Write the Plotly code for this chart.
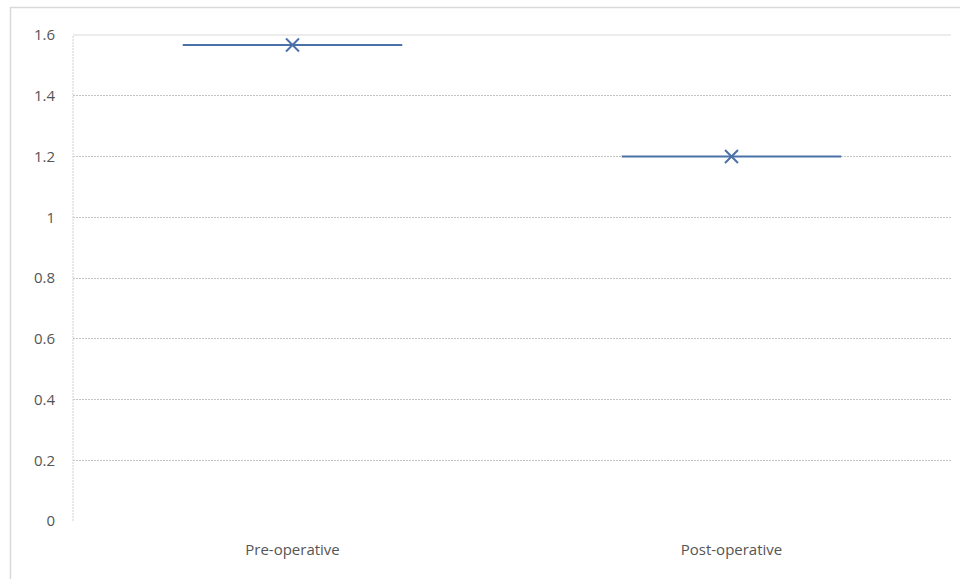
import plotly.graph_objects as go

# Mean values per group
categories = ["Pre-operative", "Post-operative"]
values = [1.567, 1.2]
y_ticks = [0, 0.2, 0.4, 0.6, 0.8, 1.0, 1.2, 1.4, 1.6]

W, H = 960, 579
L, R, T, B = 73, 9, 35, 58
pw, ph = W - L - R, H - T - B
half = 0.25  # half-width of each group's level line (in category units)

fig = go.Figure()
blue = "#4a72a8"
for i, (cat, v) in enumerate(zip(categories, values)):
    fig.add_trace(go.Scatter(
        x=[i - half, i + half], y=[v, v], mode="lines",
        line=dict(color=blue, width=2), hoverinfo="skip", showlegend=False))
    fig.add_trace(go.Scatter(
        x=[i], y=[v], mode="markers", name=cat,
        marker=dict(symbol="x-thin-open", size=13, color=blue,
                    line=dict(color=blue, width=2)),
        showlegend=False))

fig.update_layout(
    width=W, height=H,
    margin=dict(l=L, r=R, t=T, b=B),
    paper_bgcolor="white", plot_bgcolor="white",
    font=dict(family="Open Sans, sans-serif", size=15, color="#555555"),
    xaxis=dict(
        range=[-0.5, len(categories) - 0.5],
        tickmode="array", tickvals=list(range(len(categories))), ticktext=categories,
        showgrid=False, zeroline=False, showline=False, ticks="",
        ticklabelstandoff=18, fixedrange=True,
    ),
    yaxis=dict(
        range=[0, 1.6], tickmode="array", tickvals=y_ticks,
        ticktext=[f"{t:g}" for t in y_ticks],
        showgrid=True, gridcolor="#c4c4c4", gridwidth=1, griddash="2px,1px",
        zeroline=False, showline=False, ticks="", ticklabelstandoff=17,
    ),
    shapes=[
        # left edge of the plot area
        dict(type="line", xref="paper", yref="paper", x0=0, x1=0, y0=0, y1=1,
             line=dict(color="#d0d0d0", width=1, dash="2px,1px")),
        # top edge of the plot area
        dict(type="line", xref="paper", yref="paper", x0=0, x1=1, y0=1, y1=1,
             line=dict(color="#d9d9d9", width=1)),
        # chart frame
        dict(type="rect", xref="paper", yref="paper",
             x0=(10.5 - L) / pw, x1=(975 - L) / pw,
             y0=-(600 - (H - B)) / ph, y1=1 + (T - 7.5) / ph,
             line=dict(color="#d9d9d9", width=1.5), fillcolor="rgba(0,0,0,0)",
             layer="below"),
    ],
)

fig.write_html("out.html")
